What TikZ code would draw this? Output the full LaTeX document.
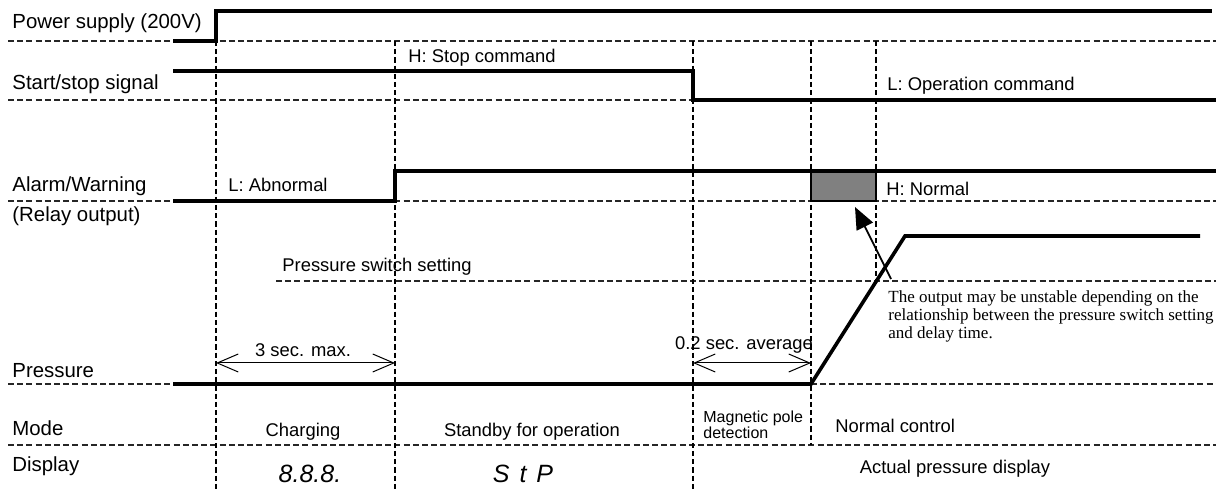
\documentclass[tikz,border=0pt]{standalone}
\usepackage{fontspec}
\setmainfont{Liberation Sans}
\newfontfamily\notefont{Liberation Serif}
\usetikzlibrary{arrows.meta, positioning, calc}
\definecolor{cBox}{RGB}{128,128,128}
\tikzset{
	wave/.style     ={line width=1.8pt, line join=miter},
	gridline/.style ={line width=0.6pt, dash pattern=on 3pt off 1.6pt, black!85},
	timeline/.style ={line width=1pt, dash pattern=on 2.6pt off 1.5pt},
	% text styles
	rowlbl/.style   ={anchor=base west, inner sep=0pt, font=\fontsize{10.2}{12}\selectfont},
	siglbl/.style   ={anchor=base west, inner sep=0pt, font=\fontsize{9.2}{11}\selectfont},
	modelbl/.style  ={anchor=base, inner sep=0pt, font=\fontsize{9.2}{11}\selectfont},
	seglbl/.style   ={anchor=base, inner sep=0pt, font=\fontsize{12.5}{14}\selectfont\itshape},
	dimarrow/.style ={{Straight Barb[length=10.5pt, width=9pt]}-{Straight Barb[length=10.5pt, width=9pt]}, line width=0.5pt},
	notearrow/.style={-{Triangle[length=11pt, width=9pt]}, line width=0.9pt},
}
\begin{document}
\begin{tikzpicture}[x=0.5pt, y=-0.5pt]
	\useasboundingbox (0,0) rectangle (1216,491);
	\foreach \y in {41,100,201,445}
		\draw[gridline] (8,\y) -- (1216,\y);
	\draw[gridline] (276,281) -- (1216,281);
	\draw[gridline] (8,384) -- (173,384);
	\draw[gridline] (811,384) -- (1216,384);
	\foreach \x/\yb in {216/491, 395/491, 693/491, 811/445, 876/281}
		\draw[timeline] (\x,41) -- (\x,\yb);
	\node[draw, fill=cBox, line width=0.6pt, minimum width=32.5pt, minimum height=15pt, inner sep=0pt] (unst) at (843.5,186) {};
	% signals
	\draw[wave] (173,41) -- (216,41) -- (216,11) -- (1212,11);
	\draw[wave] (173,71) -- (693,71) -- (693,100) -- (1216,100);
	\draw[wave] (173,201) -- (395,201) -- (395,171) -- (1216,171);
	\draw[wave] (173,384) -- (811,384) -- (905,236) -- (1200,236);
	\node[rowlbl] (lPower) at (12,29) {Power supply (200V)};
	\node[rowlbl] (lStart) at (12,90) {Start/stop signal};
	\node[rowlbl] (lAlarm) at (12,192) {Alarm/Warning};
	\node[rowlbl] (lRelay) at (12,222) {(Relay output)};
	\node[rowlbl] (lPress) at (12,378) {Pressure};
	\node[rowlbl] (lMode) at (12,436) {Mode};
	\node[rowlbl] (lDisp) at (12,472) {Display};
	\node[siglbl] (tStop) at (408,63) {H: Stop command};
	\node[siglbl] (tOper) at (887,91) {L: Operation command};
	\node[siglbl] (tAbn) at (228,192) {L: Abnormal};
	\node[siglbl] (tNorm) at (886,196) {H: Normal};
	\node[siglbl] (tSwitch) at (282,272) {Pressure switch setting};
	\node[anchor=north west, inner sep=0pt, align=left, font=\notefont\fontsize{8.5}{9.2}\selectfont] (tNote) at (888,290)
		{The output may be unstable depending on the\\
		relationship between the pressure switch setting\\
		and delay time.};
	\coordinate (noteTail) at (891,279);
	\coordinate (noteTip) at (855,207);
	\draw[notearrow] (noteTail) -- (noteTip);
	% durations
	\coordinate (d3a) at (216,363);
	\coordinate (d3b) at (395,363);
	\coordinate (d02a) at (693,363);
	\coordinate (d02b) at (811,363);
	\draw[dimarrow] (d3a) -- (d3b);
	\draw[dimarrow] (d02a) -- (d02b);
	\node[modelbl] (dim3) at (303,357) {3 sec. max.};
	\node[modelbl] (dim02) at (744,350) {0.2 sec. average};
	% modes and display
	\node[modelbl] (mCharge) at (303,437) {Charging};
	\node[modelbl] (mStandby) at (532,437) {Standby for operation};
	\node[anchor=north west, inner sep=0pt, align=left, font=\fontsize{8}{7.6}\selectfont] (mPole) at (703,411) {Magnetic pole\\detection};
	\node[siglbl] (mNormal) at (835,433) {Normal control};
	\node[seglbl] (dCharge) at (310,483) {8.8.8.};
	\node[seglbl] (dStandby) at (523,483) {S\kern5pt t\kern5pt P};
	\node[modelbl] (dActual) at (955,474) {Actual pressure display};
\end{tikzpicture}
\end{document}
